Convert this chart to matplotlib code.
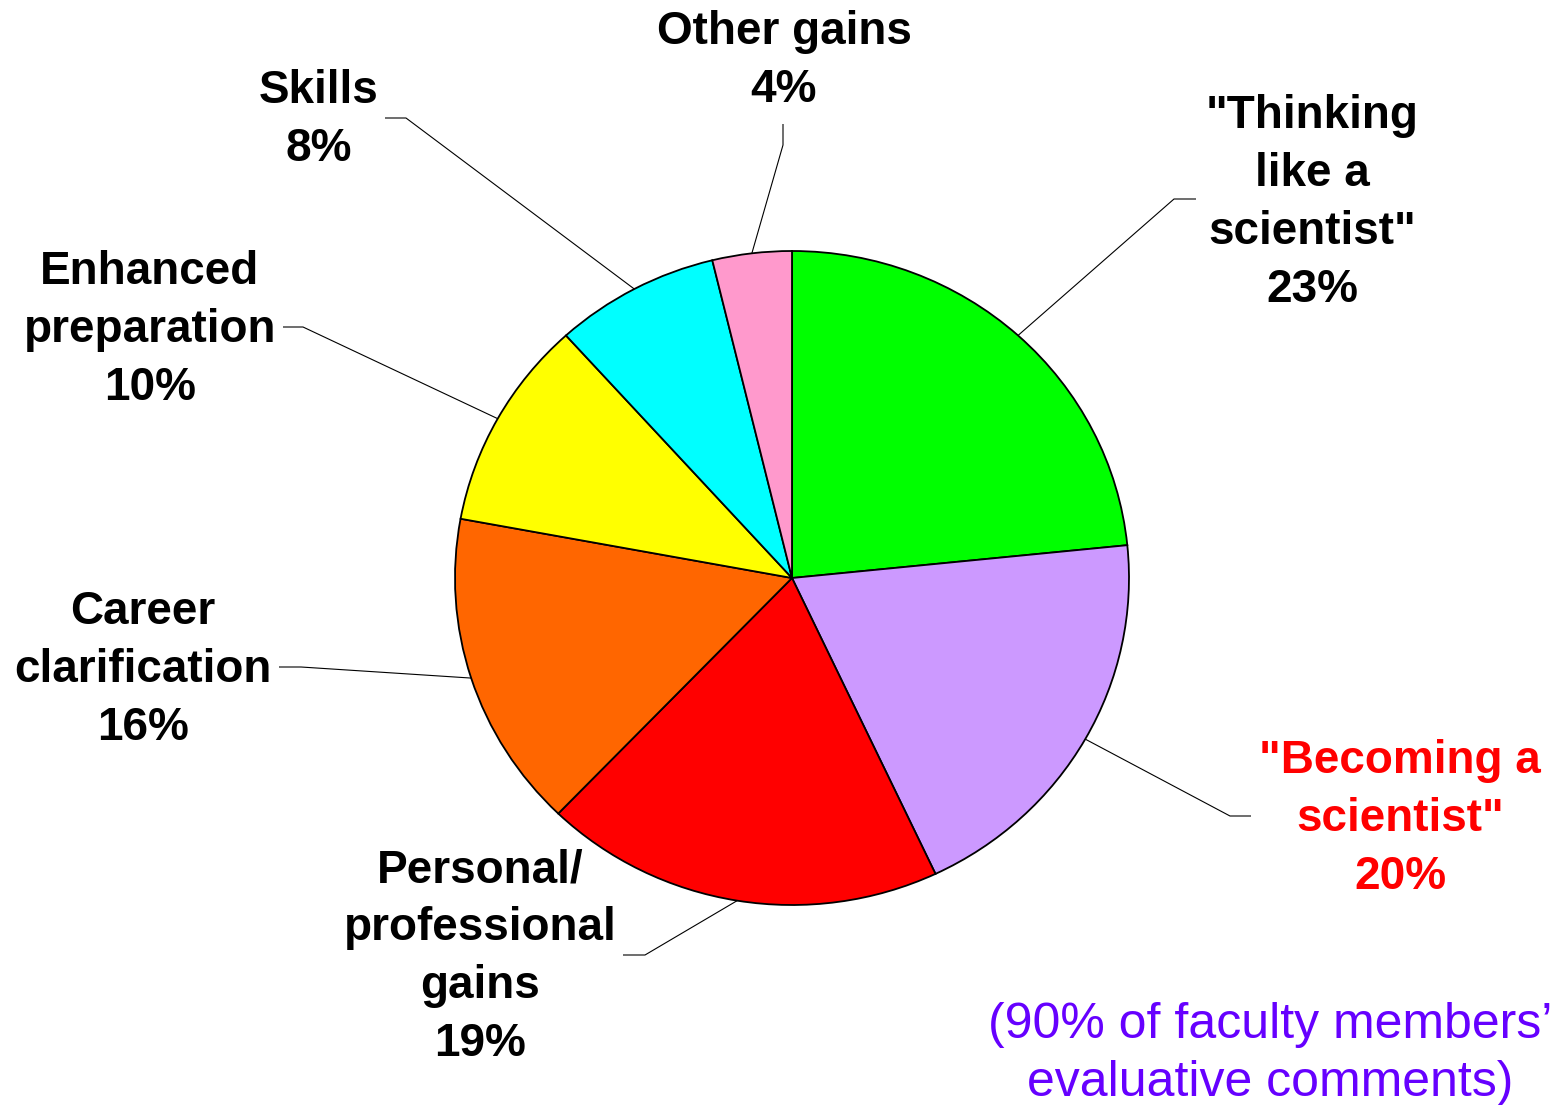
import numpy as np
import matplotlib
matplotlib.use("Agg")
import matplotlib.pyplot as plt

# data
labels = ['"Thinking\nlike a\nscientist"', '"Becoming a\nscientist"', 'Personal/\nprofessional\ngains',
          'Career\nclarification', 'Enhanced\npreparation', 'Skills', 'Other gains']
shares = [23.4, 19.6, 19.2, 15.7, 10.4, 7.9, 3.8]   # slice sizes
pct_labels = [23, 20, 19, 16, 10, 8, 4]              # percentages as printed
colors = ['#00FF00', '#CC99FF', '#FF0000', '#FF6600', '#FFFF00', '#00FFFF', '#FF99CC']
label_colors = ['black', '#FF0000', 'black', 'black', 'black', 'black', 'black']
note = '(90% of faculty members\u2019\nevaluative comments)'

# layout in pixels (figure is 1561 x 1105)
CX, CY, RX, RY = 792, 578, 337, 327
# text centre, elbow of leader line, end of leader line
text_pos = [(1312, 203), (1400, 819), (480, 957), (143, 670), (150, 330), (319, 120), (784, 61)]
elbows = [(1174, 199), (1230, 816), (645, 955), (301, 667), (303, 327), (406, 118), (783, 145)]
ends = [(1196, 199), (1251, 816), (623, 955), (279, 667), (283, 327), (385, 118), (783, 124)]


def P(px, py):
    return (px - CX) / RX, (CY - py) / RY


plt.rcParams['font.family'] = ['Liberation Sans', 'DejaVu Sans']

fig = plt.figure(figsize=(15.61, 11.05), dpi=100)
ax = fig.add_axes([0, 0, 1, 1])
wedges, _ = ax.pie(shares, colors=colors, startangle=90, counterclock=False,
                   radius=1, center=(0, 0),
                   wedgeprops=dict(edgecolor='black', linewidth=1.3))
ax.set_aspect('auto')
ax.set_xlim(-CX / RX, (1561 - CX) / RX)
ax.set_ylim((CY - 1105) / RY, CY / RY)
ax.axis('off')

for w, lab, val, col, tp, el, en in zip(wedges, labels, pct_labels, label_colors, text_pos, elbows, ends):
    mid = np.deg2rad((w.theta1 + w.theta2) / 2)
    sx, sy = np.cos(mid), np.sin(mid)
    ex, ey = P(*el)
    nx, ny = P(*en)
    ax.plot([sx, ex, nx], [sy, ey, ny], color='black', linewidth=0.8, solid_capstyle='butt')
    tx, ty = P(*tp)
    ax.text(tx, ty, f'{lab}\n{val}%', ha='center', va='center', fontsize=33,
            fontweight='bold', color=col, linespacing=1.41)

nx, ny = P(1270, 1054)
ax.text(nx, ny, note, ha='center', va='center', fontsize=36, color='#6600FF', linespacing=1.32)

plt.savefig('out.png', dpi=100)
